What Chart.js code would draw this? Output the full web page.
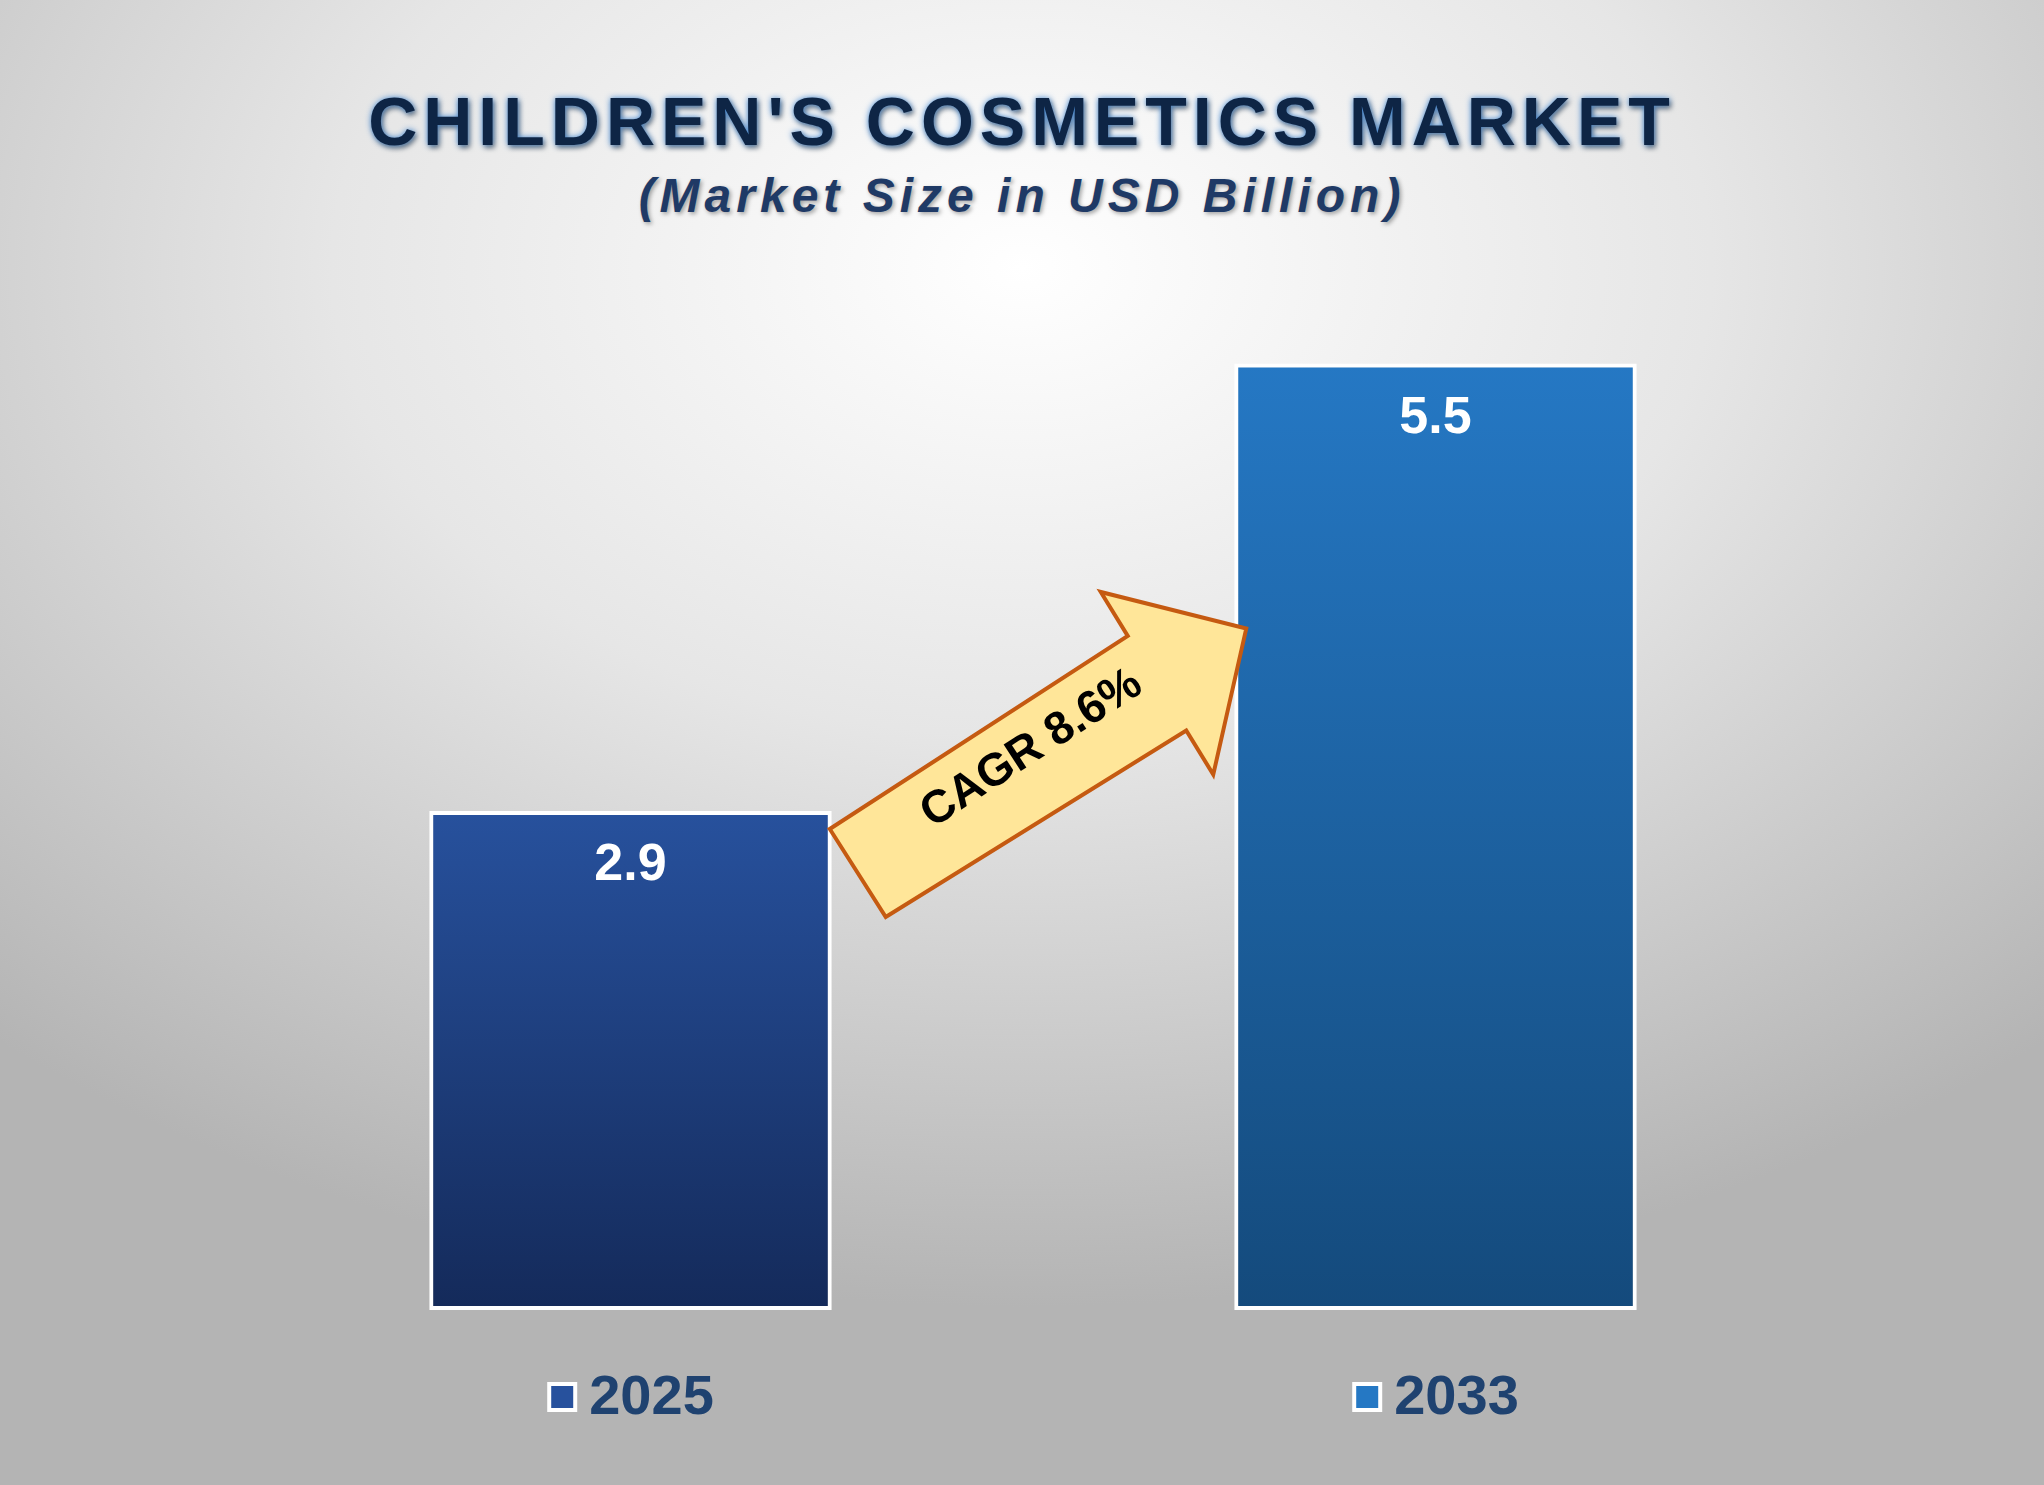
<!DOCTYPE html>
<html>
<head>
<meta charset="utf-8">
<script src="https://cdn.jsdelivr.net/npm/chart.js@4"></script>
<style>
  html, body { margin: 0; padding: 0; }
  body {
    width: 2044px; height: 1485px; overflow: hidden; position: relative;
    background: radial-gradient(ellipse 75% 70% at 50% 18%, #ffffff 0%, #e6e6e6 45%, #b4b4b4 100%);
    font-family: "Liberation Sans", Arial, sans-serif;
  }
  #title {
    position: absolute; left: 0; top: 82px; width: 2044px; text-align: center;
    font-size: 68px; font-weight: bold; letter-spacing: 6px; color: #0e2545;
    text-shadow: 0 0 6px #4a8ed8, 2px 3px 5px rgba(0,0,0,0.5);
  }
  #subtitle {
    position: absolute; left: 0; top: 168px; width: 2044px; text-align: center;
    font-size: 48px; font-weight: bold; font-style: italic; letter-spacing: 5px; color: #1f3a66;
    text-shadow: 2px 2px 4px rgba(0,0,0,0.35);
  }
  canvas { position: absolute; left: 0; top: 0; }
</style>
</head>
<body>
<div id="title">CHILDREN'S COSMETICS MARKET</div>
<div id="subtitle">(Market Size in USD Billion)</div>
<canvas id="marketChart" width="2044" height="1485"></canvas>
<script>
const years = ['2025', '2033'];
const marketSize = [2.9, 5.5];
const cagrLabel = 'CAGR 8.6%';

const topColors = ['#27519d', '#2578c4'];
const bottomColors = ['#142a5a', '#144a7c'];

const overlayPlugin = {
    id: 'overlay',
    afterDatasetsDraw(chart) {
        const ctx = chart.ctx;
        const bars = chart.getDatasetMeta(0).data;
        ctx.save();
        // value labels
        ctx.fillStyle = '#ffffff';
        ctx.font = 'bold 52px "Liberation Sans", Arial';
        ctx.textAlign = 'center';
        ctx.textBaseline = 'middle';
        bars.forEach((b, i) => ctx.fillText(String(marketSize[i]), b.x, b.y + 55));

        // CAGR arrow from bar 1 to bar 2
        const b1 = bars[0], b2 = bars[1];
        const sx = b1.x + b1.width / 2, sy = b1.y;
        const ex = b2.x - b2.width / 2 + 12, ey = b2.y + 265;
        const pts = [
            [sx - 2, sy + 18], [sx + 296, sy - 175], [sx + 269, sy - 219],
            [ex, ey], [ex - 33, ey + 146], [ex - 60, ey + 102], [sx + 54, sy + 106]
        ];
        ctx.beginPath();
        pts.forEach((p, i) => i ? ctx.lineTo(p[0], p[1]) : ctx.moveTo(p[0], p[1]));
        ctx.closePath();
        ctx.fillStyle = '#ffe699';
        ctx.fill();
        ctx.lineWidth = 4;
        ctx.strokeStyle = '#c55a11';
        ctx.stroke();

        ctx.translate(sx + 200, sy - 62);
        ctx.rotate(-Math.atan2(193, 298));
        ctx.fillStyle = '#000000';
        ctx.font = 'bold 46px "Liberation Sans", Arial';
        ctx.fillText(cagrLabel, 0, 0);
        ctx.restore();

        // x labels with square markers
        ctx.save();
        const xs = chart.scales.x;
        ctx.font = 'bold 56px "Liberation Sans", Arial';
        ctx.textBaseline = 'middle';
        ctx.textAlign = 'left';
        years.forEach((y, i) => {
            const cx = xs.getPixelForValue(i);
            const tw = ctx.measureText(y).width;
            const total = 30 + 12 + tw;
            const left = cx - total / 2;
            const cy = 1397;
            ctx.fillStyle = '#ffffff';
            ctx.fillRect(left, cy - 15, 30, 30);
            ctx.fillStyle = topColors[i];
            ctx.fillRect(left + 4, cy - 11, 22, 22);
            ctx.fillStyle = '#1f4270';
            ctx.fillText(y, left + 42, cy + 2);
        });
        ctx.restore();
    }
};

new Chart(document.getElementById('marketChart'), {
    type: 'bar',
    data: {
        labels: years,
        datasets: [{
            data: marketSize,
            backgroundColor: (c) => {
                const chart = c.chart;
                const area = chart.chartArea;
                if (!area) return topColors[c.dataIndex];
                const yTop = chart.scales.y.getPixelForValue(marketSize[c.dataIndex]);
                const g = chart.ctx.createLinearGradient(0, yTop, 0, area.bottom);
                g.addColorStop(0, topColors[c.dataIndex]);
                g.addColorStop(1, bottomColors[c.dataIndex]);
                return g;
            },
            borderColor: '#ffffff',
            borderWidth: 4,
            borderSkipped: false,
            barPercentage: 0.5,
            categoryPercentage: 1
        }]
    },
    options: {
        responsive: false,
        animation: false,
        layout: { padding: { left: 228, right: 206, top: 250, bottom: 175 } },
        plugins: { legend: { display: false }, tooltip: { enabled: false } },
        scales: {
            x: { display: false },
            y: { display: false, min: 0, max: 6.16 }
        }
    },
    plugins: [overlayPlugin]
});
</script>
</body>
</html>
